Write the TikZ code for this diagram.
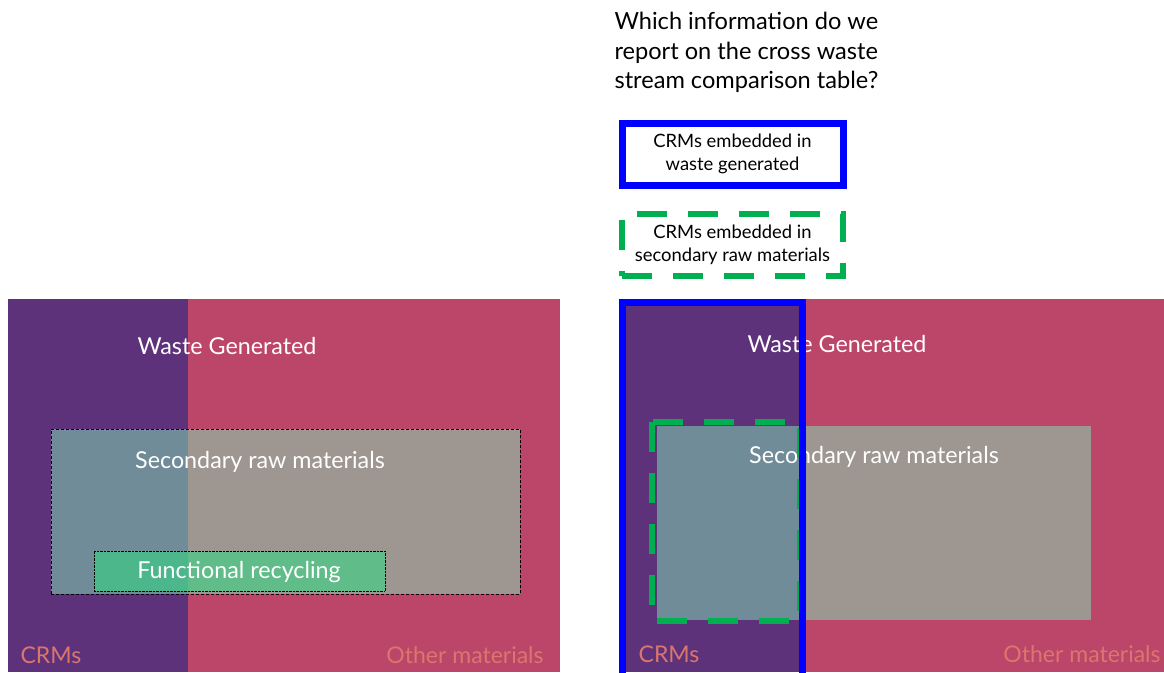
\documentclass[tikz,border=0pt]{standalone}
\usepackage{fontspec}
\setmainfont{Lato}
\usetikzlibrary{positioning}
\definecolor{crmpurple}{RGB}{94,50,123}
\definecolor{otherpink}{RGB}{188,69,106}
\definecolor{srmmint}{RGB}{130,231,182}
\definecolor{frgreen}{RGB}{46,220,130}
\definecolor{labsalmon}{RGB}{218,118,108}
\definecolor{keyblue}{RGB}{0,0,255}
\definecolor{keygreen}{RGB}{0,176,80}
\tikzset{
  block/.style={inner sep=0pt,outer sep=0pt,anchor=north west},
  wtext/.style={text=white,font=\fontsize{23.3}{27}\selectfont},
  ltext/.style={text=labsalmon,font=\fontsize{23}{27}\selectfont},
  keybox/.style={draw,line width=7pt,minimum width=221pt,minimum height=62pt,align=center,font=\fontsize{18.4}{23}\selectfont},
  greendash/.style={draw=keygreen,line width=6.5pt,dash pattern=on 30pt off 21pt}
}
\begin{document}
\begin{tikzpicture}[x=1pt,y=-1pt]
\useasboundingbox (0,0) rectangle (1164,672);
% left: waste generated
\node (crmL) [block,fill=crmpurple,minimum width=180pt,minimum height=373pt] at (8,299) {};
\node (othL) [block,fill=otherpink,minimum width=372pt,minimum height=373pt] at (188,299) {};
\node (srmL) [block,fill=srmmint,fill opacity=0.5,draw=black,draw opacity=1,densely dashed,minimum width=469pt,minimum height=165pt] at (51,429) {};
\node (frL) [block,fill=frgreen,fill opacity=0.55,draw=black,draw opacity=1,densely dotted,minimum width=291pt,minimum height=40pt] at (94,551) {};
\node [wtext] at (227,346) {Waste Generated};
\node [wtext] at (260,462) {Secondary raw materials};
\node [wtext] at (239,572) {Functional recycling};
\node [ltext] at (51,655) {CRMs};
\node [ltext] at (465,655) {Other materials};
% right: same split, with the reported parts
\node (crmR) [block,fill=crmpurple,minimum width=181pt,minimum height=373pt] at (619,299) {};
\node (othR) [block,fill=otherpink,minimum width=364pt,minimum height=373pt] at (800,299) {};
\node (srmR) [block,fill=srmmint,fill opacity=0.5,minimum width=434pt,minimum height=194pt] at (657,426) {};
\node [wtext] at (837,344) {Waste Generated};
\node [wtext] at (874,457) {Secondary raw materials};
\node [ltext] at (669,654) {CRMs};
\node [ltext] at (1082,654) {Other materials};
\draw [greendash] (652,422) rectangle (800,621);
\draw [draw=keyblue,line width=7pt] (622.5,680) |- (802.5,302.5) -- (802.5,680);
% question and key
\node (q) [anchor=north west,align=left,font=\fontsize{23.6}{29.5}\selectfont] at (611,9)
  {Which information do we\\report on the cross waste\\stream comparison table?};
\node (kwg) [keybox,draw=keyblue] at (732.5,154) {CRMs embedded in\\waste generated};
\node (ksrm) [keybox,greendash,below=22pt of kwg] {CRMs embedded in\\secondary raw materials};
\end{tikzpicture}
\end{document}
